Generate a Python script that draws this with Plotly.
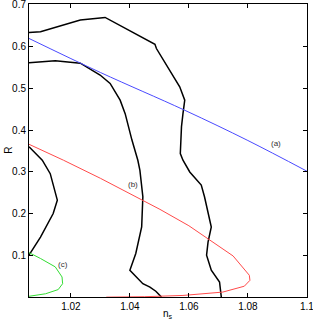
import plotly.graph_objects as go

# (a) blue line
a_ns = [1.0058, 1.03, 1.0586, 1.08, 1.1]
a_R = [0.618, 0.537, 0.447, 0.375, 0.302]

# (b) red curve
b_ns = [1.0058, 1.0175, 1.0300, 1.0468, 1.0502, 1.0600, 1.0670, 1.0750, 1.0805, 1.0807, 1.0788, 1.0715, 1.0580, 1.0450, 1.0320]
b_R = [0.366, 0.328, 0.285, 0.2225, 0.211, 0.172, 0.139, 0.100, 0.054, 0.042, 0.028, 0.014, 0.006, 0.003, 0.002]

# (c) green curve
c_ns = [1.0058, 1.0097, 1.0147, 1.0170, 1.0172, 1.0157, 1.0114, 1.0058]
c_R = [0.108, 0.094, 0.074, 0.050, 0.034, 0.020, 0.010, 0.004]

# black contours
k1_ns = [1.0058, 1.0097, 1.0232, 1.0316, 1.0485, 1.0490, 1.0569, 1.0586, 1.0580, 1.0575, 1.0571, 1.0580, 1.0603, 1.0642, 1.0653, 1.0665, 1.0676, 1.0665, 1.0660, 1.0676, 1.0704, 1.0710]
k1_R = [0.632, 0.634, 0.662, 0.668, 0.604, 0.594, 0.503, 0.471, 0.439, 0.408, 0.344, 0.328, 0.300, 0.269, 0.241, 0.205, 0.169, 0.133, 0.102, 0.066, 0.038, 0.002]

k2_ns = [1.0058, 1.0147, 1.0232, 1.0299, 1.0333, 1.0367, 1.0384, 1.0397, 1.0407, 1.0427, 1.0434, 1.0444, 1.0440, 1.0420, 1.0400, 1.0444, 1.0468, 1.0488, 1.0507]
k2_R = [0.560, 0.565, 0.559, 0.531, 0.511, 0.471, 0.439, 0.400, 0.376, 0.328, 0.304, 0.241, 0.169, 0.106, 0.066, 0.034, 0.026, 0.016, 0.002]

k3_ns = [1.0058, 1.0103, 1.0130, 1.0154, 1.0140, 1.0097, 1.0058]
k3_R = [0.360, 0.328, 0.296, 0.233, 0.201, 0.145, 0.102]

x_ticks = [1.02, 1.04, 1.06, 1.08, 1.1]
x_labels = ["1.02", "1.04", "1.06", "1.08", "1.1"]
y_ticks = [0.1, 0.2, 0.3, 0.4, 0.5, 0.6, 0.7]
y_labels = ["0.1", "0.2", "0.3", "0.4", "0.5", "0.6", "0.7"]

labels = ["(a)", "(b)", "(c)"]
label_ns = [1.0895, 1.0411, 1.0172]
label_R = [0.369, 0.270, 0.0795]

FONT = "Liberation Sans, Arial"

fig = go.Figure()
for xs, ys in [(k1_ns, k1_R), (k2_ns, k2_R), (k3_ns, k3_R)]:
    fig.add_trace(go.Scatter(x=xs, y=ys, mode="lines",
                             line=dict(color="black", width=1.5), hoverinfo="skip"))
fig.add_trace(go.Scatter(x=a_ns, y=a_R, mode="lines", line=dict(color="#4a4aff", width=1, shape="spline")))
fig.add_trace(go.Scatter(x=b_ns, y=b_R, mode="lines", line=dict(color="#ff4a4a", width=1)))
fig.add_trace(go.Scatter(x=c_ns, y=c_R, mode="lines", line=dict(color="#33dd33", width=1)))

for t, x, y in zip(labels, label_ns, label_R):
    fig.add_annotation(x=x, y=y, text=t, showarrow=False,
                       font=dict(size=8, color="#333333", family=FONT))

# axis titles as annotations
fig.add_annotation(xref="paper", yref="paper", x=0.5, y=-0.058, text="n<sub>s</sub>",
                   showarrow=False, xanchor="center", yanchor="middle",
                   font=dict(size=10, color="black", family=FONT))
fig.add_annotation(xref="paper", yref="paper", x=-0.075, y=0.5, text="R", textangle=-90,
                   showarrow=False, xanchor="center", yanchor="middle",
                   font=dict(size=10, color="black", family=FONT))

axis_common = dict(showgrid=False, zeroline=False, showline=True, linecolor="black",
                   linewidth=1, mirror="ticks", ticks="inside", ticklen=4,
                   tickcolor="black", automargin=False, ticklabeloverflow="allow",
                   tickfont=dict(size=10, color="black", family=FONT))
fig.update_layout(
    width=313, height=323,
    margin=dict(l=29, r=6, t=4, b=26),
    paper_bgcolor="white", plot_bgcolor="white",
    showlegend=False,
    xaxis=dict(range=[1.0058, 1.10005], tickvals=x_ticks, ticktext=x_labels, **axis_common),
    yaxis=dict(range=[0.0023, 0.70005], tickvals=y_ticks, ticktext=y_labels, **axis_common),
)
fig.write_html("out.html", config={"displayModeBar": False},
               post_script="document.body.style.margin='0';")
